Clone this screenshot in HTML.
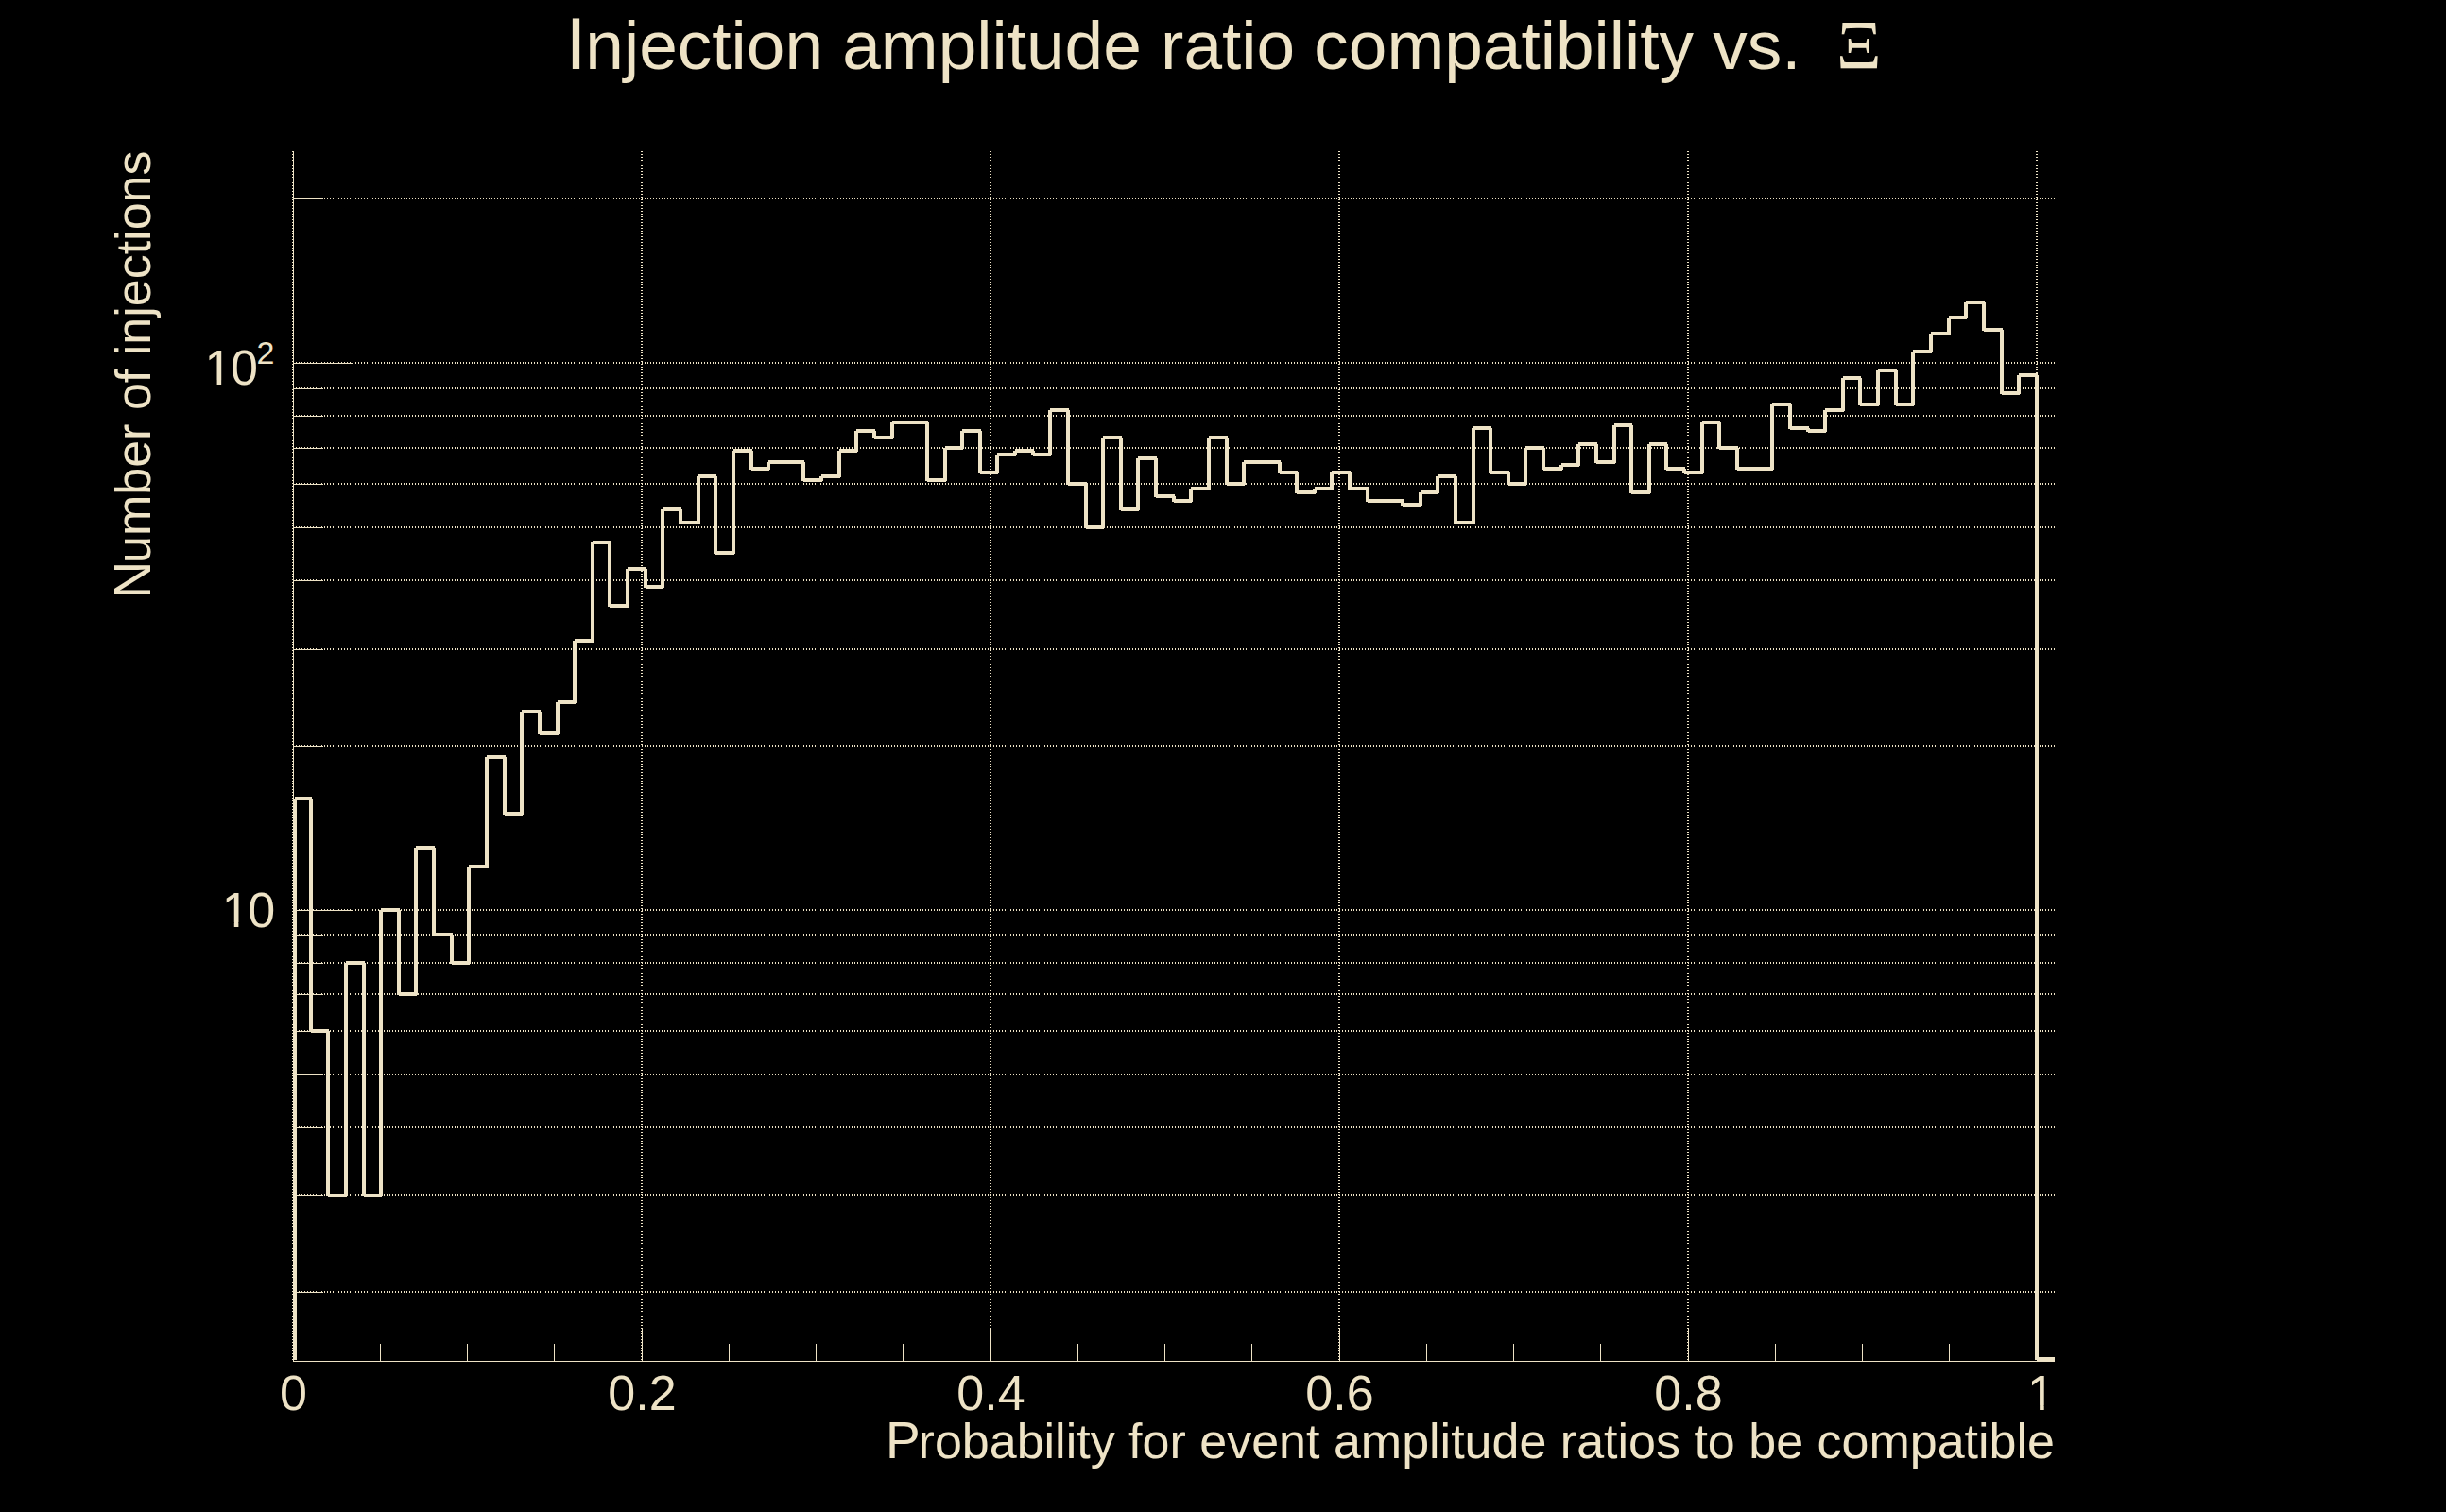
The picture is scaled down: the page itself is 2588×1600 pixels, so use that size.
<!DOCTYPE html>
<html lang="en"><head><meta charset="utf-8"><title>Injection amplitude ratio compatibility vs. Ξ</title>
<style>html,body{margin:0;padding:0;background:#000;overflow:hidden;}body{width:2588px;height:1600px;overflow:hidden;}svg{display:block;}text{font-family:"Liberation Sans",sans-serif;fill:#eee3c6;}.sym{font-family:"Liberation Serif",serif;}</style></head><body>
<svg width="2588" height="1600" viewBox="0 0 2588 1600">
<rect width="2588" height="1600" fill="#000"/>
<path d="M310 1367H2174M310 1265H2174M310 1193H2174M310 1137H2174M310 1091H2174M310 1052H2174M310 1019H2174M310 989H2174M310 789H2174M310 687H2174M310 614H2174M310 558H2174M310 512H2174M310 474H2174M310 440H2174M310 411H2174M310 210H2174M310 963H2174M310 384H2174M310 160V1440M679 160V1440M1048 160V1440M1417 160V1440M1786 160V1440M2155 160V1440" fill="none" stroke="#eee3c6" stroke-width="2" stroke-dasharray="1 2" shape-rendering="crispEdges"/>
<path d="M310.5 160V1441M310 1440.5H2174M311 1367.5H342M311 1265.5H342M311 1193.5H342M311 1137.5H342M311 1091.5H342M311 1052.5H342M311 1019.5H342M311 989.5H342M311 789.5H342M311 687.5H342M311 614.5H342M311 558.5H342M311 512.5H342M311 474.5H342M311 440.5H342M311 411.5H342M311 210.5H342M311 963.5H374M311 384.5H374M310.5 1405V1440M402.5 1422V1440M494.5 1422V1440M586.5 1422V1440M679.5 1405V1440M771.5 1422V1440M863.5 1422V1440M955.5 1422V1440M1048.5 1405V1440M1140.5 1422V1440M1232.5 1422V1440M1324.5 1422V1440M1417.5 1405V1440M1509.5 1422V1440M1601.5 1422V1440M1693.5 1422V1440M1786.5 1405V1440M1878.5 1422V1440M1970.5 1422V1440M2062.5 1422V1440M2155.5 1405V1440" fill="none" stroke="#eee3c6" stroke-width="1" shape-rendering="crispEdges"/>
<path d="M312 845V1439M312 845H330M329 845V1092M329 1091H348M347 1091V1266M347 1265H367M366 1019V1266M366 1019H386M385 1019V1266M385 1265H404M403 963V1266M403 963H423M422 963V1053M422 1052H441M440 897V1053M440 897H460M459 897V990M459 989H479M478 989V1020M478 1019H497M496 917V1020M496 917H516M515 801V918M515 801H535M534 801V862M534 861H553M552 753V862M552 753H572M571 753V777M571 776H591M590 743V777M590 743H609M608 678V744M608 678H628M627 574V679M627 574H646M645 574V642M645 641H665M664 602V642M664 602H684M683 602V622M683 621H702M701 539V622M701 539H721M720 539V554M720 553H740M739 504V554M739 504H758M757 504V586M757 585H777M776 477V586M776 477H796M795 477V497M795 496H814M813 489V497M813 489H833M832 489H851M850 489V509M850 508H870M869 504V509M869 504H889M888 477V505M888 477H907M906 456V478M906 456H926M925 456V464M925 463H945M944 447V464M944 447H963M962 447H982M981 447V509M981 508H1001M1000 474V509M1000 474H1019M1018 456V475M1018 456H1038M1037 456V501M1037 500H1056M1055 481V501M1055 481H1075M1074 477V482M1074 477H1094M1093 477V482M1093 481H1112M1111 434V482M1111 434H1131M1130 434V513M1130 512H1150M1149 512V559M1149 558H1168M1167 463V559M1167 463H1187M1186 463V540M1186 539H1205M1204 485V540M1204 485H1224M1223 485V526M1223 525H1243M1242 525V531M1242 530H1261M1260 517V531M1260 517H1280M1279 463V518M1279 463H1299M1298 463V513M1298 512H1317M1316 489V513M1316 489H1336M1335 489H1355M1354 489V501M1354 500H1373M1372 500V522M1372 521H1392M1391 517V522M1391 517H1410M1409 500V518M1409 500H1429M1428 500V518M1428 517H1448M1447 517V531M1447 530H1466M1465 530H1485M1484 530V535M1484 534H1504M1503 521V535M1503 521H1522M1521 504V522M1521 504H1541M1540 504V554M1540 553H1560M1559 453V554M1559 453H1578M1577 453V501M1577 500H1597M1596 500V513M1596 512H1615M1614 474V513M1614 474H1634M1633 474V497M1633 496H1653M1652 492V497M1652 492H1671M1670 470V493M1670 470H1690M1689 470V490M1689 489H1709M1708 450V490M1708 450H1727M1726 450V522M1726 521H1746M1745 470V522M1745 470H1764M1763 470V497M1763 496H1783M1782 496V501M1782 500H1802M1801 447V501M1801 447H1820M1819 447V475M1819 474H1839M1838 474V497M1838 496H1858M1857 496H1876M1875 428V497M1875 428H1895M1894 428V454M1894 453H1914M1913 453V457M1913 456H1932M1931 434V457M1931 434H1951M1950 400V435M1950 400H1969M1968 400V429M1968 428H1988M1987 392V429M1987 392H2007M2006 392V429M2006 428H2025M2024 372V429M2024 372H2044M2043 353V373M2043 353H2063M2062 336V354M2062 336H2081M2080 320V337M2080 320H2100M2099 320V350M2099 349H2119M2118 349V417M2118 416H2137M2136 397V417M2136 397H2156M2155 397V1439M2155 1438H2174" fill="none" stroke="#eee3c6" stroke-width="4" shape-rendering="crispEdges"/>
<text x="598.7" y="73" font-size="73" id="title"><tspan font-size="77.4">I</tspan><tspan dx="-0.85">njection</tspan> amplitude ratio compatibility vs.</text>
<text x="1942.9" y="73" font-size="74" class="sym" id="xi">Ξ</text>
<text transform="translate(158.6 633.5) rotate(-90)" font-size="52" id="ytitle"><tspan font-size="55">N</tspan><tspan dx="-2.2">umber</tspan> of injections</text>
<text x="2174" y="1543" font-size="52" text-anchor="end" id="xtitle"><tspan font-size="55">P</tspan><tspan dx="-2">robability</tspan> for event amplitude ratios to be compatible</text>
<text x="310.5" y="1491.8" font-size="52" text-anchor="middle" id="xl0">0</text>
<text x="679.5" y="1491.8" font-size="52" text-anchor="middle" id="xl1">0.2</text>
<text x="1048.5" y="1491.8" font-size="52" text-anchor="middle" id="xl2">0.4</text>
<text x="1417.5" y="1491.8" font-size="52" text-anchor="middle" id="xl3">0.6</text>
<text x="1786.5" y="1491.8" font-size="52" text-anchor="middle" id="xl4">0.8</text>
<clipPath id="c1" clipPathUnits="userSpaceOnUse"><path clip-rule="evenodd" d="M0 0H2588 V1600 H0ZM2147.58 1487.32H2158.12V1493.80H2147.58Z M2162.71 1487.32H2172.59V1493.80H2162.71Z"/></clipPath>
<text x="2159.5" y="1491.8" font-size="52" text-anchor="middle" id="xl5" clip-path="url(#c1)">1</text>
<clipPath id="c2" clipPathUnits="userSpaceOnUse"><path clip-rule="evenodd" d="M0 0H2588 V1600 H0ZM237.24 976.22H247.78V982.70H237.24Z M252.37 976.22H262.25V982.70H252.37Z"/></clipPath>
<text x="234.7 262.2" y="980.7" font-size="52" id="yl10" clip-path="url(#c2)">10</text>
<clipPath id="c3" clipPathUnits="userSpaceOnUse"><path clip-rule="evenodd" d="M0 0H2588 V1600 H0ZM219.04 402.72H229.58V409.20H219.04Z M234.17 402.72H244.05V409.20H234.17Z"/></clipPath>
<text x="216.5 243.9" y="407.2" font-size="52" id="yl100" clip-path="url(#c3)">10</text>
<text x="271.5" y="385" font-size="34" id="yl100e">2</text>
</svg></body></html>
